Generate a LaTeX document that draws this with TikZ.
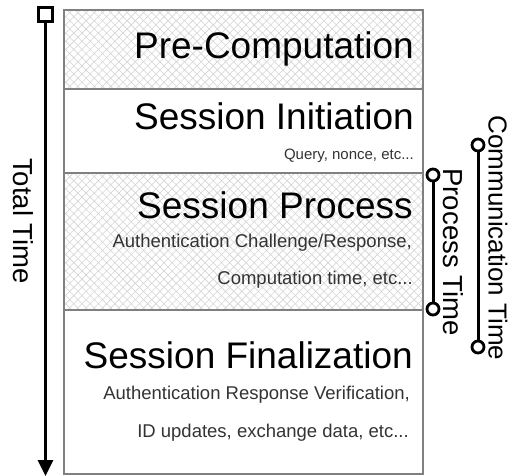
\documentclass[tikz,border=0pt]{standalone}
\usepackage{fontspec}
\setmainfont{Liberation Sans}
\usetikzlibrary{arrows.meta,patterns.meta}
\begin{document}
\begin{tikzpicture}[x=1pt,y=-1pt,
  hatchA/.style={pattern={Lines[angle=45,distance=5.8pt,line width=0.6pt]},pattern color=black!17},
  hatchB/.style={pattern={Lines[angle=-45,distance=5.8pt,line width=0.6pt]},pattern color=black!17},
  frame/.style={draw=black!50,line width=1.3pt},
  title/.style={anchor=base east,inner sep=0pt,font=\fontsize{37}{40}\selectfont},
  note/.style={anchor=base east,inner sep=0pt,text=black!80,font=\fontsize{18.5}{20}\selectfont},
  smallnote/.style={anchor=base east,inner sep=0pt,text=black!80,font=\fontsize{15}{17}\selectfont},
  vlabel/.style={rotate=-90,inner sep=0pt,font=\fontsize{27.5}{29}\selectfont},
  endring/.style={circle,draw,line width=2.8pt,fill=white,minimum size=12pt,inner sep=0pt},
  bar/.style={line width=3pt},
]
\useasboundingbox (0,0) rectangle (511,476);

% hatched rows: pre-computation and session process
\foreach \ya/\yb in {10/89,173/310}{
  \fill[white] (64,\ya) rectangle (423,\yb);
  \fill[hatchA] (64,\ya) rectangle (423,\yb);
  \fill[hatchB] (64,\ya) rectangle (423,\yb);
}
% outer frame and row separators
\draw[frame] (64,10) rectangle (423,474);
\draw[frame] (64,89) -- (423,89);
\draw[frame] (64,173) -- (423,173);
\draw[frame] (64,310) -- (423,310);

% row texts
\node[title] (pre) at (414,59) {Pre-Computation};
\node[title] (init) at (414,130) {Session Initiation};
\node[smallnote] (initnote) at (414,159) {Query, nonce, etc...};
\node[title] (proc) at (413,218) {Session Process};
\node[note] (procnoteA) at (412,247) {Authentication Challenge/Response,};
\node[note] (procnoteB) at (413,284) {Computation time, etc...};
\node[title] (fin) at (413,368) {Session Finalization};
\node[note] (finnoteA) at (410,399) {Authentication Response Verification,};
\node[note] (finnoteB) at (409,437) {ID updates, exchange data, etc...};

% total time axis
\node[draw,line width=2.8pt,fill=white,minimum size=14pt,inner sep=0pt] (tstart) at (45.5,14.5) {};
\coordinate (tend) at (45.5,476);
\draw[bar,-{Triangle[width=15pt,length=16pt]}] (tstart.south) -- (tend);
\node[vlabel] (total) at (23,221) {Total Time};

% process time span
\node[endring] (pa) at (433,175) {};
\node[endring] (pb) at (433,309) {};
\draw[bar] (pa) -- (pb);
\node[vlabel] (ptime) at (453,252) {Process Time};

% communication time span
\node[endring] (ca) at (478,145) {};
\node[endring] (cb) at (478,347) {};
\draw[bar] (ca) -- (cb);
\node[vlabel,font=\fontsize{26}{28}\selectfont] (ctime) at (498,238) {Communication Time};
\end{tikzpicture}
\end{document}
